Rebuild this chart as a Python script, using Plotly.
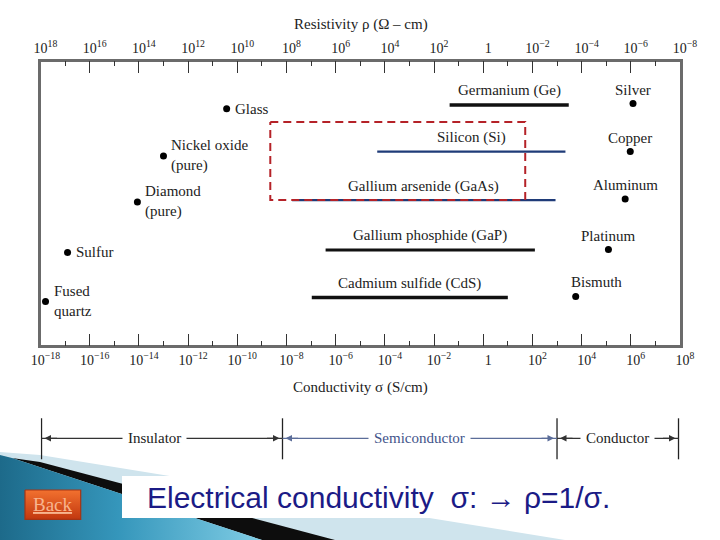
import numpy as np
import plotly.graph_objects as go

# ---------------- data ----------------
point_names = ["Glass", "Nickel oxide<br>(pure)", "Diamond<br>(pure)", "Sulfur", "Fused<br>quartz",
               "Silver", "Copper", "Aluminum", "Platinum", "Bismuth"]
point_sigma = [3.7e-11, 1.0e-13, 8.7e-15, 1.26e-17, 1.6e-18,
               1.23e6, 9.5e5, 5.9e5, 1.23e5, 5.75e3]          # S/cm
point_row = [1.10, 2.07, 3.02, 4.06, 5.07, 0.99, 1.98, 2.96, 4.00, 4.97]

semi_names = ["Germanium (Ge)", "Silicon (Si)", "Gallium arsenide (GaAs)",
              "Gallium phosphide (GaP)", "Cadmium sulfide (CdS)"]
semi_sigma_low = [4.3e-2, 4.9e-5, 1.7e-8, 3.9e-7, 1.07e-7]
semi_sigma_high = [3.0e3, 2.2e3, 8.7e2, 1.26e2, 1.0e1]
semi_row = [1.02, 1.98, 2.98, 4.01, 4.99]

highlight_sigma = [2.2e-9, 51.0]
highlight_rows = [1.37, 2.98]

class_names = ["Insulator", "Semiconductor", "Conductor"]
class_edges = [1.1e-18, 6.9e-9, 1.0e3, 8.7e7]

major_exp = list(range(-18, 9, 2))
minor_exp = list(range(-17, 8, 2))

title_text = "Electrical conductivity\u00a0\u00a0σ: → ρ=1/σ."

# ---------------- helpers / styles ----------------
def pow_label(e):
    if e == 0:
        return "1"
    return "10<sup>" + str(e).replace("-", "−") + "</sup>"

bottom_ticktext = [pow_label(e) for e in major_exp]
top_ticktext = [pow_label(-e) for e in major_exp]
major_vals = [10.0 ** e for e in major_exp]
minor_vals = [10.0 ** e for e in minor_exp]

SERIF = "Liberation Serif"
TXT = "#222222"
AXC = "#6b6b6b"
W, H = 720, 540
# plot area in pixels
PX0, PX1, PY0, PY1 = 40.5, 680.0, 61.7, 345.3

def px(x):
    return x / W

def py(y):
    return (H - y) / H

xr = [-18.0, 8.0]
yr = [5.975, 0.128]

fig = go.Figure()

# semiconductor ranges
semi_color = ["#111111", "#1f3b78", "#1f3b78", "#111111", "#111111"]
semi_width = [3.5, 2.2, 2.2, 3.0, 3.5]
for i, n in enumerate(semi_names):
    fig.add_trace(go.Scatter(x=[semi_sigma_low[i], semi_sigma_high[i]], y=[semi_row[i]] * 2,
                             mode="lines", line=dict(color=semi_color[i], width=semi_width[i]),
                             hoverinfo="skip", showlegend=False))

# dashed highlight box
fig.add_trace(go.Scatter(
    x=[highlight_sigma[0], highlight_sigma[1], highlight_sigma[1], highlight_sigma[0], highlight_sigma[0]],
    y=[highlight_rows[0], highlight_rows[0], highlight_rows[1], highlight_rows[1], highlight_rows[0]],
    mode="lines", line=dict(color="#b52228", width=2, dash="8px,5px"),
    hoverinfo="skip", showlegend=False))

# material points
fig.add_trace(go.Scatter(x=point_sigma, y=point_row, mode="markers",
                         marker=dict(color="#000000", size=7), cliponaxis=False,
                         hoverinfo="skip", showlegend=False))

# dummy trace for the top (resistivity) axis
fig.add_trace(go.Scatter(x=[1.0], y=[None], xaxis="x2", yaxis="y", mode="markers",
                         hoverinfo="skip", showlegend=False))

# ---------------- slide decoration (pixel space axes) ----------------
deco = [
    ([0, 40, 565, 0], [452, 455, 540, 540], "#cfe4ed"),
    ([12, 40, 335, 262], [458, 462, 540, 540], "#0d0d0d"),
]
for xs, ys, col in deco:
    fig.add_trace(go.Scatter(x=xs + [xs[0]], y=ys + [ys[0]], xaxis="x3", yaxis="y3",
                             mode="lines", fill="toself", fillcolor=col,
                             line=dict(width=0, color=col), hoverinfo="skip", showlegend=False))
fig.add_trace(go.Scatter(x=[0, 12, 262, 0, 0], y=[455, 458, 540, 540, 455], xaxis="x3", yaxis="y3",
                         mode="lines", fill="toself",
                         fillgradient=dict(type="horizontal",
                                           colorscale=[[0, "#1d6a8a"], [0.45, "#3596bb"], [1, "#80cde5"]]),
                         line=dict(width=0), hoverinfo="skip", showlegend=False))
# Back button
fig.add_trace(go.Scatter(x=[25, 80.7, 80.7, 25, 25], y=[490, 490, 519.3, 519.3, 490], xaxis="x3", yaxis="y3",
                         mode="lines", fill="toself",
                         fillgradient=dict(type="vertical",
                                           colorscale=[[0, "#c2380f"], [1, "#f2712f"]]),
                         line=dict(width=1.2, color="#a53414"), hoverinfo="skip", showlegend=False))

shapes = []
# white title box
shapes.append(dict(type="rect", xref="paper", yref="paper", x0=px(122), x1=1.0, y0=py(518), y1=py(476),
                   fillcolor="#ffffff", line=dict(width=0), layer="above"))

# class dividers and arrow lines
class_line_col = ["#333333", "#5b6d99", "#333333"]
class_text_col = ["#222222", "#42538a", "#222222"]
for e in class_edges:
    shapes.append(dict(type="line", xref="x", yref="paper", x0=e, x1=e, y0=py(459.3), y1=py(418.3),
                       line=dict(color="#222222", width=1.3), layer="above"))
for i in range(3):
    shapes.append(dict(type="line", xref="x", yref="paper", x0=class_edges[i], x1=class_edges[i + 1],
                       y0=py(438.3), y1=py(438.3), line=dict(color=class_line_col[i], width=1.3),
                       layer="above"))

annotations = []
# point labels
for i, n in enumerate(point_names):
    a = dict(xref="x", yref="y", x=np.log10(point_sigma[i]), y=point_row[i], text=n, showarrow=False,
             font=dict(family=SERIF, size=15, color=TXT))
    if i < 5:
        a.update(xanchor="left", align="left", yanchor="middle", xshift=6)
    elif n == "Bismuth":
        a.update(xanchor="left", yanchor="middle", xshift=-7, yshift=15)
    else:
        a.update(xanchor="center", yanchor="middle", yshift=14)
    annotations.append(a)

# semiconductor labels
for i, n in enumerate(semi_names):
    xm = (np.log10(semi_sigma_low[i]) + np.log10(semi_sigma_high[i])) / 2
    annotations.append(dict(xref="x", yref="y", x=xm, y=semi_row[i], text=n, showarrow=False,
                            xanchor="center", yanchor="middle", yshift=14,
                            font=dict(family=SERIF, size=15, color=TXT)))

# class labels and arrowheads
class_label_shift = [-8, 0, 0]
for i, n in enumerate(class_names):
    lo, hi = np.log10(class_edges[i]), np.log10(class_edges[i + 1])
    annotations.append(dict(xref="x", yref="paper", x=(lo + hi) / 2, y=py(438.3), text=n, showarrow=False,
                            xanchor="center", yanchor="middle", bgcolor="#ffffff", borderpad=5,
                            xshift=class_label_shift[i],
                            font=dict(family=SERIF, size=15, color=class_text_col[i])))
    for xv, sgn in ((lo, 1), (hi, -1)):
        annotations.append(dict(xref="x", yref="paper", x=xv, y=py(438.3), xshift=3 * sgn, text="",
                                showarrow=True, arrowhead=2, arrowsize=1.0, arrowwidth=1.3,
                                arrowcolor=class_line_col[i], ax=14 * sgn, ay=0, standoff=0))

# axis titles
annotations.append(dict(xref="paper", yref="paper", x=px(360.6), y=py(25), text="Resistivity ρ (Ω – cm)",
                        showarrow=False, xanchor="center", yanchor="middle",
                        font=dict(family=SERIF, size=15, color=TXT)))
annotations.append(dict(xref="paper", yref="paper", x=px(360.6), y=py(387), text="Conductivity σ (S/cm)",
                        showarrow=False, xanchor="center", yanchor="middle",
                        font=dict(family=SERIF, size=15, color=TXT)))
# slide title and back button
annotations.append(dict(xref="paper", yref="paper", x=px(145), y=py(497), text=title_text,
                        showarrow=False, xanchor="left", yanchor="middle",
                        font=dict(family="Liberation Sans", size=30, color="#1b1b86")))
annotations.append(dict(xref="paper", yref="paper", x=px(52.8), y=py(504), text="<u>Back</u>",
                        showarrow=False, xanchor="center", yanchor="middle",
                        font=dict(family=SERIF, size=19, color="#f8b58e")))

xcommon = dict(type="log", range=xr, domain=[px(PX0), px(PX1)], showline=True, linecolor=AXC,
               linewidth=2.5, ticks="inside", ticklen=12, tickwidth=1.4, tickcolor="#333333",
               tickmode="array", tickvals=major_vals, showgrid=False, zeroline=False,
               tickfont=dict(family=SERIF, size=14, color=TXT), automargin=False, fixedrange=True,
               ticklabelshift=5,
               minor=dict(tickmode="array", tickvals=minor_vals, ticks="inside", ticklen=5,
                          tickwidth=1.4, tickcolor="#333333", showgrid=False))

fig.update_layout(
    width=W, height=H, margin=dict(l=0, r=0, t=0, b=0),
    paper_bgcolor="#ffffff", plot_bgcolor="rgba(0,0,0,0)", showlegend=False,
    font=dict(family=SERIF, size=14, color=TXT),
    xaxis=dict(xcommon, anchor="y", side="bottom", ticktext=bottom_ticktext),
    xaxis2=dict(xcommon, anchor="y", side="top", overlaying="x", ticktext=top_ticktext),
    yaxis=dict(range=yr, domain=[py(PY1), py(PY0)], showline=True, mirror=True, linecolor=AXC,
               linewidth=2.5, showticklabels=False, ticks="", showgrid=False, zeroline=False,
               automargin=False, fixedrange=True),
    xaxis3=dict(domain=[0, 1], range=[0, W], visible=False, fixedrange=True, anchor="y3"),
    yaxis3=dict(domain=[0, 1], range=[H, 0], visible=False, fixedrange=True, anchor="x3"),
    shapes=shapes, annotations=annotations,
)

fig.write_html("out.html", config={"displayModeBar": False},
               post_script="document.body.style.margin='0px';document.body.style.overflow='hidden';")
